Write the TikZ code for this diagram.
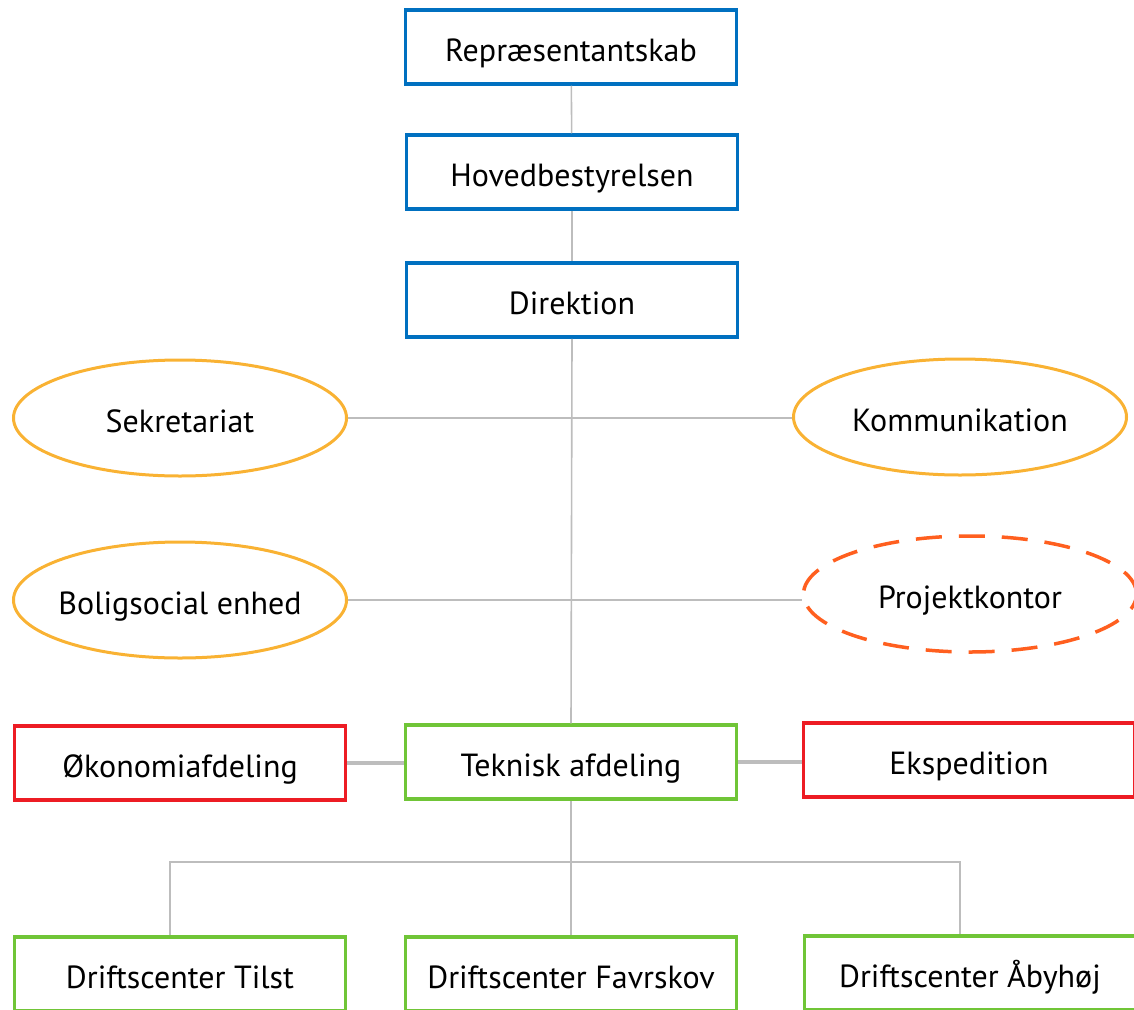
\documentclass[tikz,border=0pt]{standalone}
\usepackage{fontspec}
\setmainfont{PT Sans}
\usetikzlibrary{shapes.geometric}
\definecolor{boxblue}{HTML}{0070C0}
\definecolor{boxgreen}{HTML}{70C537}
\definecolor{boxred}{HTML}{ED1C24}
\definecolor{ellorange}{HTML}{F9B233}
\definecolor{dashorange}{HTML}{FF5F1F}
\definecolor{linegray}{HTML}{BDBDBD}

\begin{document}
\begin{tikzpicture}[x=1pt,y=-1pt,
  orgbox/.style={draw, rectangle, line width=3.5pt, minimum width=331pt,
    minimum height=74pt, inner sep=0pt, text height=28pt, text depth=0pt,
    font=\fontsize{32}{38}\selectfont},
  bluebox/.style={orgbox, draw=boxblue},
  redbox/.style={orgbox, draw=boxred},
  greenbox/.style={orgbox, draw=boxgreen},
  staffell/.style={draw=ellorange, ellipse, line width=3pt, minimum width=333pt,
    minimum height=116pt, inner xsep=-50pt, inner ysep=0pt, text height=28pt,
    text depth=0pt, font=\fontsize{32}{38}\selectfont},
  projell/.style={staffell, draw=dashorange, line width=3.5pt, dash pattern=on 26pt off 17pt},
  link/.style={draw=linegray, line width=1.6pt},
  thicklink/.style={draw=linegray, line width=3.5pt}
]
  % Page frame
  \useasboundingbox (0,0) rectangle (1134,1009);

  % Board and management
  \node[bluebox] (rep) at (571,47) {Repræsentantskab};
  \node[bluebox] (hov) at (572,172) {Hovedbestyrelsen};
  \node[bluebox] (dir) at (572,300) {Direktion};

  % Staff functions
  \node[staffell] (sek) at (180,418) {Sekretariat};
  \node[staffell] (kom) at (960,417) {Kommunikation};
  \node[staffell] (bol) at (180,600) {Boligsocial enhed};
  \node[projell] (pro) at (970,594) {Projektkontor};

  % Departments
  \node[redbox] (oko) at (180,763) {Økonomiafdeling};
  \node[greenbox] (tek) at (571,762) {Teknisk afdeling};
  \node[redbox] (eks) at (969,760) {Ekspedition};

  % Operation centres (cut by the page edge)
  \node[greenbox] (til) at (180,974) {Driftscenter Tilst};
  \node[greenbox] (fav) at (571,974) {Driftscenter Favrskov};
  \node[greenbox] (abo) at (970,973) {Driftscenter Åbyhøj};

  % Connectors
  \draw[link] (rep) -- (hov);
  \draw[link] (hov) -- (dir);
  \draw[link] (dir.south) -- (tek.north);
  \draw[link] (sek.east) -- (sek.east -| kom.west);
  \draw[link] (bol.east) -- (bol.east -| pro.west);
  \draw[thicklink] (oko.east) -- (oko.east -| tek.west);
  \draw[thicklink] (tek.east) -- (tek.east -| eks.west);
  \draw[link] (tek.south) -- (fav.north);
  \coordinate (busl) at (170,862);
  \coordinate (busr) at (960,862);
  \draw[link] (busl |- til.north) -- (busl) -- (busr) -- (busr |- abo.north);
\end{tikzpicture}
\end{document}
